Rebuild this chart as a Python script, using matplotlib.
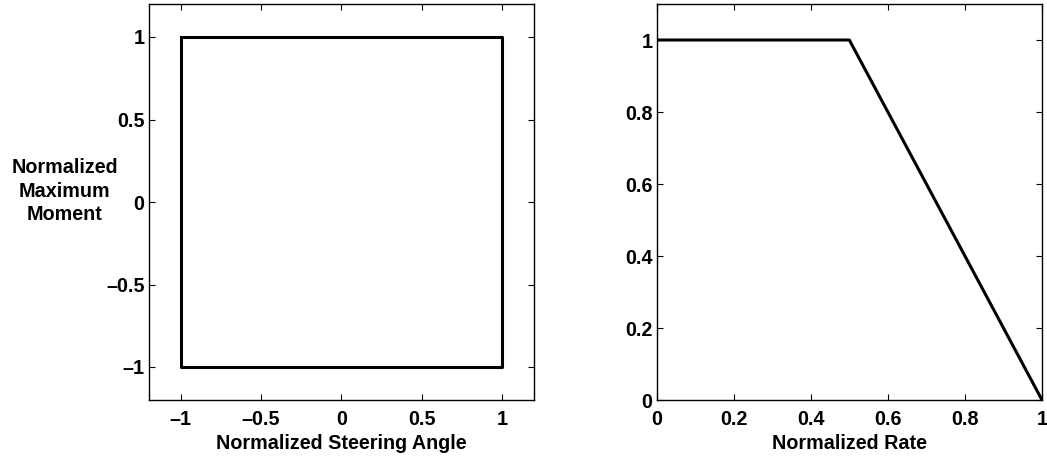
"""Normalized moment envelope vs steering angle and rate."""

import numpy as np
import matplotlib
matplotlib.use('Agg')
import matplotlib.pyplot as plt

# Left panel: moment limit box over steering angle
angle = [-1, 1, 1, -1, -1]
moment = [1, 1, -1, -1, 1]

# Right panel: moment limit vs rate
rate = [0, 0.5, 1]
rate_moment = [1, 1, 0]

left_xticks = [-1, -0.5, 0, 0.5, 1]
left_yticks = [-1, -0.5, 0, 0.5, 1]
right_xticks = [0, 0.2, 0.4, 0.6, 0.8, 1]
right_yticks = [0, 0.2, 0.4, 0.6, 0.8, 1]

FS = 14.2


def fmt(v):
    return ('%g' % v).replace('-', '\u2013')


plt.rcParams['font.family'] = ['Liberation Sans', 'DejaVu Sans']
plt.rcParams['font.weight'] = 'bold'

fig = plt.figure(figsize=(10.47, 4.59), dpi=100)
W, H = 1047, 459


def style(ax, xt, yt):
    ax.set_xticks(xt)
    ax.set_yticks(yt)
    ax.set_xticklabels([fmt(v) for v in xt], fontweight='bold', fontsize=FS)
    ax.set_yticklabels([fmt(v) for v in yt], fontweight='bold', fontsize=FS)
    ax.tick_params(direction='in', length=4, width=0.8, top=True, right=True)
    ax.tick_params(axis='x', pad=7)
    ax.tick_params(axis='y', pad=3)
    for s in ax.spines.values():
        s.set_linewidth(1.0)


# Left axes
ax1 = fig.add_axes([148.7 / W, 1 - 400 / H, (534 - 148.7) / W, (400 - 4) / H])
ax1.plot(angle, moment, color='black', linewidth=2.2)
ax1.set_xlim(-1.2, 1.2)
ax1.set_ylim(-1.2, 1.2)
style(ax1, left_xticks, left_yticks)
ax1.set_xlabel('Normalized Steering Angle', fontweight='bold', fontsize=FS, labelpad=4)
ax1.set_ylabel('Normalized\nMaximum\nMoment', fontweight='bold', fontsize=FS,
               rotation=0, ha='center', va='center', labelpad=0, linespacing=1.3)
ax1.yaxis.set_label_coords(-0.2185, 0.527)

# Right axes
ax2 = fig.add_axes([656.7 / W, 1 - 400 / H, (1042 - 656.7) / W, (400 - 4) / H])
ax2.plot(rate, rate_moment, color='black', linewidth=2.2)
ax2.set_xlim(0, 1)
ax2.set_ylim(0, 1.1)
style(ax2, right_xticks, right_yticks)
ax2.set_xlabel('Normalized Rate', fontweight='bold', fontsize=FS, labelpad=4)

fig.savefig('out.png', dpi=100)
